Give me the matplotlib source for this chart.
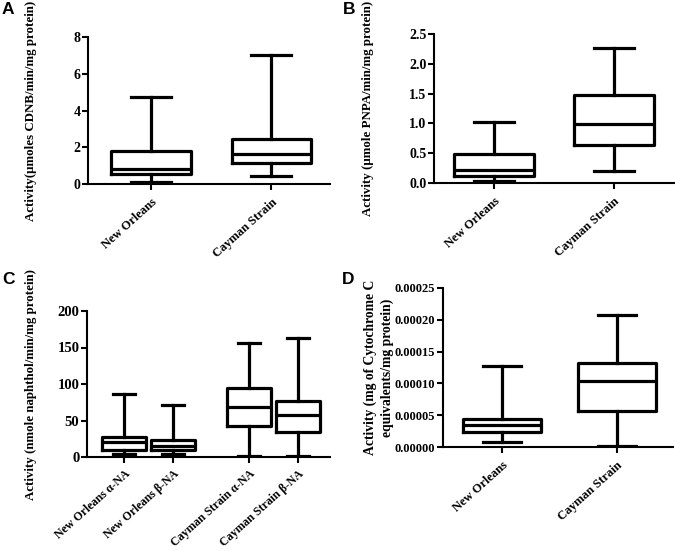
import matplotlib
matplotlib.use("Agg")
import matplotlib.pyplot as plt
from matplotlib.ticker import FormatStrFormatter

plt.rcParams['font.family'] = ['Liberation Serif', 'DejaVu Serif']
plt.rcParams['font.weight'] = 'bold'

# ---- data (min, Q1, median, Q3, max) ----
a_labels = ["New Orleans", "Cayman Strain"]
a_min = [0.09, 0.42]
a_q1 = [0.54, 1.14]
a_med = [0.81, 1.64]
a_q3 = [1.80, 2.45]
a_max = [4.73, 7.02]

b_labels = ["New Orleans", "Cayman Strain"]
b_min = [0.04, 0.20]
b_q1 = [0.11, 0.64]
b_med = [0.21, 0.99]
b_q3 = [0.48, 1.47]
b_max = [1.02, 2.26]

c_labels = ["New Orleans \u03b1-NA", "New Orleans \u03b2-NA",
            "Cayman Strain \u03b1-NA", "Cayman Strain \u03b2-NA"]
c_min = [3.7, 4.6, 1.8, 1.8]
c_q1 = [10.1, 9.6, 42.2, 33.9]
c_med = [20.0, 14.7, 67.9, 56.9]
c_q3 = [27.5, 22.9, 94.5, 76.1]
c_max = [86.7, 71.6, 156.0, 163.0]

d_labels = ["New Orleans", "Cayman Strain"]
d_min = [0.0000079, 0.0000010]
d_q1 = [0.0000230, 0.0000560]
d_med = [0.0000340, 0.0001030]
d_q3 = [0.0000440, 0.0001320]
d_max = [0.0001279, 0.0002080]

fig = plt.figure(figsize=(6.75, 5.51), dpi=100)

LW = 2.3

def panel(rect, labels, mn, q1, md, q3, mx, positions, width, xlim, ylim,
          yticks, ylabel, fmt=None, ylabel_x=None, tick_fs=10, xl_fs=9,
          yl_fs=9.3, linespacing=1.2, xpad=5):
    ax = fig.add_axes(rect)
    stats = []
    for i in range(len(labels)):
        stats.append(dict(whislo=mn[i], q1=q1[i], med=md[i], q3=q3[i],
                          whishi=mx[i], fliers=[]))
    ax.bxp(stats, positions=positions, widths=width, capwidths=width / 2,
           showfliers=False, manage_ticks=False,
           boxprops=dict(color='black', linewidth=LW),
           whiskerprops=dict(color='black', linewidth=LW),
           capprops=dict(color='black', linewidth=LW),
           medianprops=dict(color='black', linewidth=LW))
    ax.set_xlim(*xlim)
    ax.set_ylim(*ylim)
    ax.set_yticks(yticks)
    if fmt:
        ax.yaxis.set_major_formatter(FormatStrFormatter(fmt))
    ax.set_xticks(positions)
    ax.set_xticklabels(labels, rotation=42, ha='right', va='top',
                       rotation_mode='anchor', fontsize=xl_fs, fontweight='bold')
    for t in ax.get_yticklabels():
        t.set_fontsize(tick_fs)
        t.set_fontweight('bold')
    for s in ['top', 'right']:
        ax.spines[s].set_visible(False)
    for s in ['left', 'bottom']:
        ax.spines[s].set_linewidth(1.5)
    ax.tick_params(axis='both', width=1.5, length=4, direction='out')
    ax.tick_params(axis='y', pad=1.5)
    ax.tick_params(axis='x', pad=xpad)
    ax.set_ylabel(ylabel, fontsize=yl_fs, fontweight='bold', linespacing=linespacing)
    if ylabel_x is not None:
        ax.yaxis.set_label_coords(ylabel_x, 0.5)
    return ax

panel([88/675, 1-184/551, 242/675, 147/551], a_labels, a_min, a_q1, a_med, a_q3, a_max,
      [1, 2], 0.66, (0.475, 2.49), (0, 8), [0, 2, 4, 6, 8],
      "Activity(\u00b5moles CDNB/min/mg protein)", ylabel_x=-0.21)

panel([434/675, 1-183/551, 240/675, 149/551], b_labels, b_min, b_q1, b_med, b_q3, b_max,
      [1, 2], 0.67, (0.5, 2.5), (0, 2.5), [0.0, 0.5, 1.0, 1.5, 2.0, 2.5],
      "Activity (\u00b5mole PNPA/min/mg protein)", fmt='%.1f', ylabel_x=-0.25)

panel([87/675, 1-457/551, 243/675, 146/551], c_labels, c_min, c_q1, c_med, c_q3, c_max,
      [1, 2, 3.55, 4.55], 0.9, (0.24, 5.2), (0, 200), [0, 50, 100, 150, 200],
      "Activity (nmole naphthol/min/mg protein)", ylabel_x=-0.205, tick_fs=10.5,
      xl_fs=8.6, xpad=3.5)

panel([443/675, 1-447/551, 230/675, 159/551], d_labels, d_min, d_q1, d_med, d_q3, d_max,
      [1, 2], 0.67, (0.487, 2.487), (0, 0.00025),
      [0, 0.00005, 0.0001, 0.00015, 0.0002, 0.00025],
      "Activity (mg of Cytochrome C\nequivalents/mg protein)", fmt='%.5f',
      ylabel_x=-0.215, tick_fs=9, yl_fs=9.8, linespacing=1.3)

for lab, x, y in [("A", 2, 549), ("B", 343, 549), ("C", 2, 279), ("D", 342, 279)]:
    fig.text(x/675, y/551, lab, fontsize=12.5, fontweight='bold',
             family=['Liberation Sans', 'DejaVu Sans'], ha='left', va='top')

fig.savefig("out.png", dpi=100, facecolor='white')
